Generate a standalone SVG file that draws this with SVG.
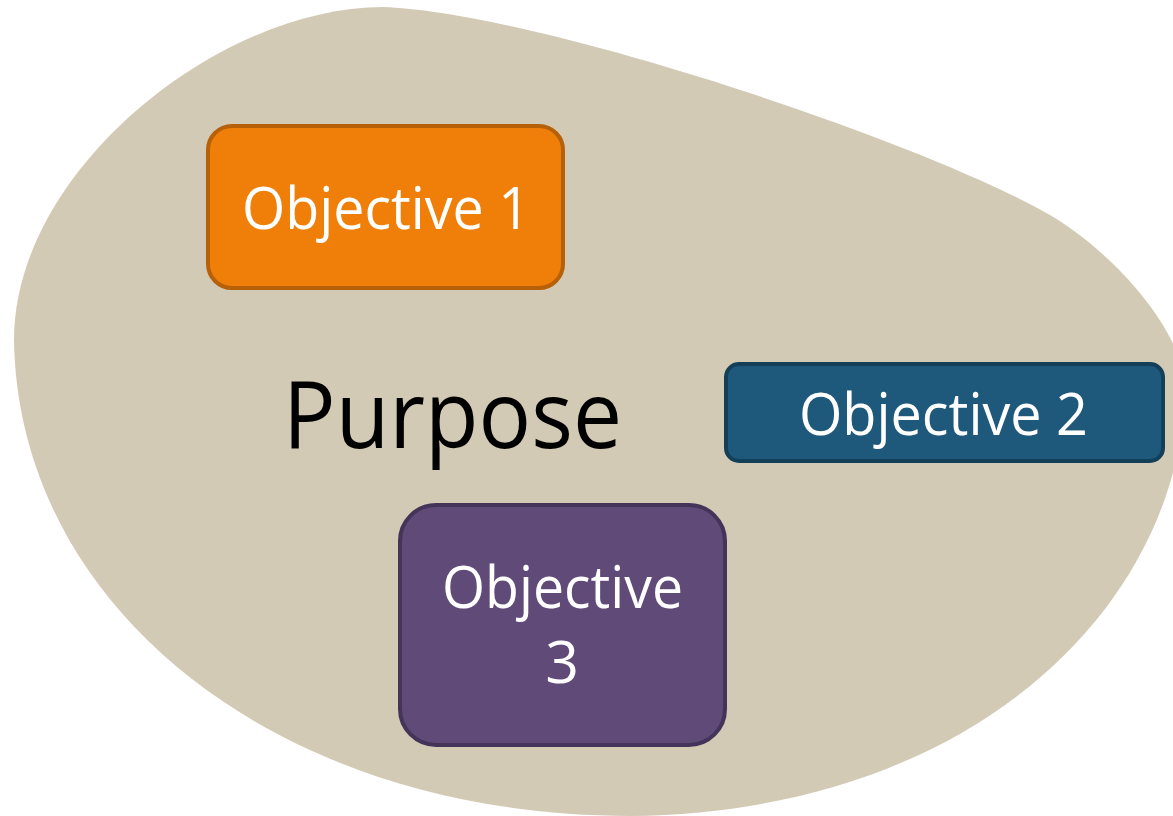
<svg xmlns="http://www.w3.org/2000/svg" width="1173" height="816" viewBox="0 0 1173 816">
<style>
.lbl{font-family:"Open Sans","Noto Sans","Liberation Sans",sans-serif;fill:#ffffff;font-size:59px;text-anchor:middle}
.title{font-family:"Open Sans","Noto Sans","Liberation Sans",sans-serif;fill:#000000;font-size:93px}
.box{stroke-width:4}
</style>
<rect x="0" y="0" width="1173" height="816" fill="#ffffff"/>
<g id="purpose">
<path fill="#D3CAB6" d="M14,340 C14,170 220,7 383,7 C533,12 920,140 1050,215 C1110,250 1185,330 1185,390 C1180,600 980,812 630,816 C280,816 18,610 14,340 Z"/>
<text class="title" x="283" y="448" textLength="339" lengthAdjust="spacingAndGlyphs">Purpose</text>
</g>
<g id="connectors"></g>
<g id="objective1">
<rect class="box" x="208" y="126" width="355" height="162" rx="24" fill="#F07F09" stroke="#B6600A"/>
<text class="lbl" x="386" y="229" textLength="288" lengthAdjust="spacingAndGlyphs">Objective 1</text>
</g>
<g id="objective2">
<rect class="box" x="726" y="364" width="437" height="97" rx="13" fill="#1E587A" stroke="#143F58"/>
<text class="lbl" x="943.5" y="435" textLength="289" lengthAdjust="spacingAndGlyphs">Objective 2</text>
</g>
<g id="objective3">
<rect class="box" x="400" y="505" width="325" height="240" rx="36" fill="#604A78" stroke="#45345A"/>
<text class="lbl" x="562.5" y="608" textLength="241" lengthAdjust="spacingAndGlyphs">Objective</text>
<text class="lbl" x="562" y="683">3</text>
</g>
</svg>
